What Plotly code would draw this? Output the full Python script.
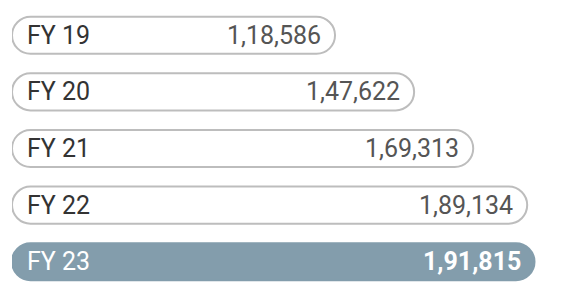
import plotly.graph_objects as go

categories = ["FY 19", "FY 20", "FY 21", "FY 22", "FY 23"]
values = [118586, 147622, 169313, 189134, 191815]
value_labels = ["1,18,586", "1,47,622", "1,69,313", "1,89,134", "1,91,815"]

highlight = "#839dac"
fills = ["#ffffff"] * 4 + [highlight]
lines = ["#bdbdbd"] * 4 + [highlight]
label_colors = ["#333333"] * 4 + ["#ffffff"]
value_colors = ["#555555"] * 4 + ["#ffffff"]

ypos = list(range(len(categories)))
BW = 0.655

fig = go.Figure()
fig.add_trace(go.Bar(
    x=values, base=[0] * len(values), y=ypos, orientation="h", width=BW,
    marker=dict(color=fills, line=dict(color=lines, width=2), cornerradius="50%"),
    hoverinfo="skip",
))

for i, (c, v, vl) in enumerate(zip(categories, values, value_labels)):
    fig.add_annotation(x=0, y=i, text=c, showarrow=False, xanchor="left",
                       xshift=13, font=dict(family="Roboto", size=25, color=label_colors[i]))
    fig.add_annotation(x=v, y=i, text=vl, showarrow=False, xanchor="right",
                       xshift=-12,
                       font=dict(family="Roboto", size=25, color=value_colors[i],
                                 weight="bold" if i == 4 else "normal"))

fig.update_layout(
    width=575, height=307,
    margin=dict(l=12, r=0, t=7, b=17),
    paper_bgcolor="white", plot_bgcolor="white",
    showlegend=False, barmode="overlay",
    xaxis=dict(range=[0, 563 / 0.002724], visible=False, fixedrange=True),
    yaxis=dict(range=[4.5, -0.5], visible=False, fixedrange=True),
)

fig.write_html("out.html", config={"displayModeBar": False})
